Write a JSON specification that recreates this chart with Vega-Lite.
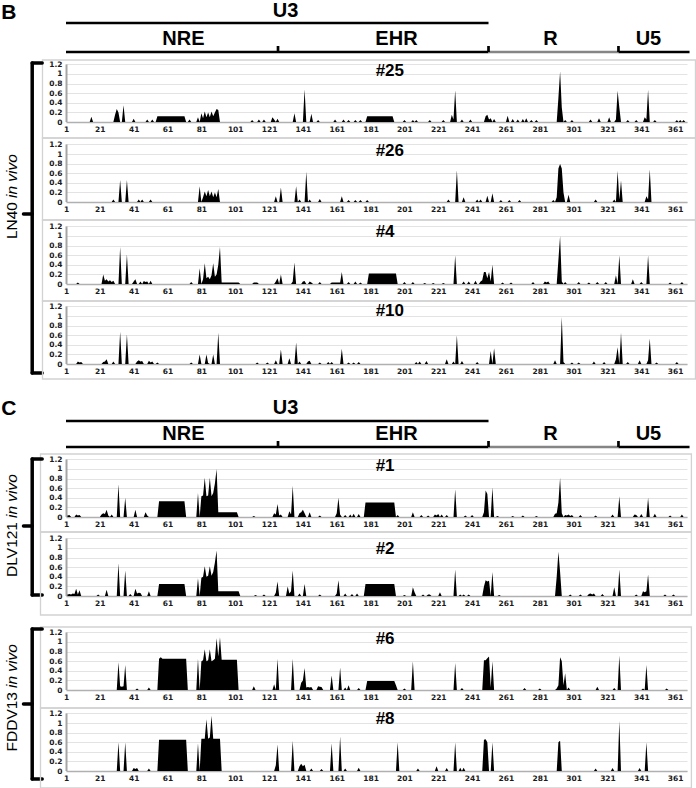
{
"$schema": "https://vega.github.io/schema/vega-lite/v6.json",
"padding": 0,
"background": "white",
"spacing": 0,
"bounds": "flush",
"config": {
  "view": {"stroke": null},
  "text": {"font": "Liberation Sans"},
  "axis": {"labelFont": "DejaVu Sans", "labelFontWeight": "bold", "labelFontSize": 7.5, "labelColor": "#1a1a1a", "ticks": false},
  "axisX": {"grid": false, "domainColor": "#b0b0b0", "domainWidth": 1.5, "labelPadding": 3},
  "axisY": {"grid": true, "gridColor": "#e3e3e3", "domain": false, "labelPadding": 4}
},
"datasets": {
"regions": [
 {"name": "U3", "tier": "outer", "start": 1, "end": 250.7, "mid": 130.7},
 {"name": "NRE", "tier": "sub", "start": 1, "end": 126.3, "mid": 70.4},
 {"name": "EHR", "tier": "sub", "start": 126.3, "end": 250.7, "mid": 196.3},
 {"name": "R", "tier": "sub", "start": 250.7, "end": 327.5, "mid": 287.3},
 {"name": "U5", "tier": "sub", "start": 327.5, "end": 369.5, "mid": 345.2}
],
"d25": [{"x":1,"y":0},{"x":15,"y":0},{"x":16,"y":0.11},{"x":17,"y":0},{"x":29,"y":0},{"x":30,"y":0.15},{"x":31,"y":0.27},{"x":32,"y":0.2},{"x":33,"y":0},{"x":34,"y":0},{"x":35,"y":0.35},{"x":36,"y":0},{"x":40,"y":0},{"x":41,"y":0.07},{"x":42,"y":0},{"x":48,"y":0},{"x":49,"y":0.05},{"x":50,"y":0},{"x":51,"y":0},{"x":52,"y":0.05},{"x":53,"y":0},{"x":54,"y":0},{"x":55,"y":0.12},{"x":71,"y":0.12},{"x":72,"y":0},{"x":73,"y":0},{"x":74,"y":0.05},{"x":75,"y":0},{"x":78,"y":0},{"x":79,"y":0.1},{"x":80,"y":0},{"x":81,"y":0.18},{"x":82,"y":0.08},{"x":83,"y":0.22},{"x":84,"y":0.1},{"x":85,"y":0.2},{"x":86,"y":0.1},{"x":87,"y":0.22},{"x":88,"y":0.12},{"x":89,"y":0.2},{"x":90,"y":0.27},{"x":91,"y":0.25},{"x":92,"y":0},{"x":110,"y":0},{"x":111,"y":0.04},{"x":112,"y":0},{"x":114,"y":0},{"x":115,"y":0.05},{"x":116,"y":0},{"x":117,"y":0},{"x":118,"y":0.05},{"x":119,"y":0},{"x":122,"y":0},{"x":123,"y":0.1},{"x":124,"y":0.05},{"x":125,"y":0},{"x":126,"y":0.07},{"x":127,"y":0},{"x":135,"y":0},{"x":136,"y":0.18},{"x":137,"y":0},{"x":141,"y":0},{"x":142,"y":0.68},{"x":143,"y":0},{"x":145,"y":0},{"x":146,"y":0.17},{"x":147,"y":0},{"x":149,"y":0},{"x":150,"y":0.04},{"x":151,"y":0},{"x":159,"y":0},{"x":160,"y":0.05},{"x":161,"y":0},{"x":164,"y":0},{"x":165,"y":0.05},{"x":166,"y":0},{"x":167,"y":0},{"x":168,"y":0.04},{"x":169,"y":0},{"x":171,"y":0},{"x":172,"y":0.04},{"x":173,"y":0},{"x":174,"y":0},{"x":175,"y":0.04},{"x":176,"y":0},{"x":178,"y":0},{"x":179,"y":0.12},{"x":194,"y":0.12},{"x":195,"y":0},{"x":200,"y":0},{"x":201,"y":0.04},{"x":202,"y":0},{"x":205,"y":0},{"x":206,"y":0.04},{"x":207,"y":0},{"x":208,"y":0.04},{"x":209,"y":0},{"x":215,"y":0},{"x":216,"y":0.04},{"x":217,"y":0},{"x":223,"y":0},{"x":224,"y":0.04},{"x":225,"y":0},{"x":228,"y":0},{"x":229,"y":0.15},{"x":230,"y":0.05},{"x":231,"y":0.66},{"x":232,"y":0},{"x":234,"y":0},{"x":235,"y":0.05},{"x":236,"y":0},{"x":239,"y":0},{"x":240,"y":0.05},{"x":241,"y":0},{"x":248,"y":0},{"x":249,"y":0.12},{"x":250,"y":0.15},{"x":251,"y":0.05},{"x":252,"y":0.08},{"x":253,"y":0},{"x":254,"y":0.06},{"x":255,"y":0},{"x":261,"y":0},{"x":262,"y":0.13},{"x":263,"y":0},{"x":264,"y":0},{"x":265,"y":0.06},{"x":266,"y":0},{"x":267,"y":0},{"x":268,"y":0.05},{"x":269,"y":0},{"x":270,"y":0},{"x":271,"y":0.06},{"x":272,"y":0},{"x":273,"y":0.08},{"x":274,"y":0},{"x":275,"y":0},{"x":276,"y":0.04},{"x":277,"y":0},{"x":278,"y":0},{"x":279,"y":0.04},{"x":280,"y":0},{"x":291,"y":0},{"x":292,"y":0.5},{"x":293,"y":1.05},{"x":294,"y":0.3},{"x":295,"y":0},{"x":296,"y":0.04},{"x":297,"y":0},{"x":299,"y":0},{"x":300,"y":0.04},{"x":301,"y":0},{"x":310,"y":0},{"x":311,"y":0.05},{"x":312,"y":0},{"x":315,"y":0},{"x":316,"y":0.08},{"x":317,"y":0},{"x":321,"y":0},{"x":322,"y":0.1},{"x":323,"y":0},{"x":325,"y":0},{"x":326,"y":0.05},{"x":327,"y":0.65},{"x":328,"y":0.3},{"x":329,"y":0},{"x":332,"y":0},{"x":333,"y":0.04},{"x":334,"y":0},{"x":337,"y":0},{"x":338,"y":0.04},{"x":339,"y":0},{"x":342,"y":0},{"x":343,"y":0.1},{"x":344,"y":0.05},{"x":345,"y":0.67},{"x":346,"y":0},{"x":348,"y":0},{"x":349,"y":0.04},{"x":350,"y":0},{"x":361,"y":0},{"x":362,"y":0.04},{"x":363,"y":0},{"x":364,"y":0.04},{"x":365,"y":0},{"x":366,"y":0.04},{"x":367,"y":0},{"x":368,"y":0}],
"d26": [{"x":1,"y":0},{"x":28,"y":0},{"x":29,"y":0.05},{"x":30,"y":0},{"x":32,"y":0},{"x":33,"y":0.46},{"x":34,"y":0},{"x":36,"y":0},{"x":37,"y":0.46},{"x":38,"y":0},{"x":43,"y":0},{"x":44,"y":0.05},{"x":45,"y":0},{"x":46,"y":0.05},{"x":47,"y":0},{"x":50,"y":0},{"x":51,"y":0.05},{"x":52,"y":0},{"x":79,"y":0},{"x":80,"y":0.33},{"x":81,"y":0},{"x":82,"y":0.1},{"x":83,"y":0.22},{"x":84,"y":0.12},{"x":85,"y":0.25},{"x":86,"y":0.12},{"x":87,"y":0.22},{"x":88,"y":0.1},{"x":89,"y":0.2},{"x":90,"y":0.1},{"x":91,"y":0.27},{"x":92,"y":0},{"x":124,"y":0},{"x":125,"y":0.12},{"x":126,"y":0},{"x":127,"y":0},{"x":128,"y":0.3},{"x":129,"y":0},{"x":136,"y":0},{"x":137,"y":0.33},{"x":138,"y":0},{"x":139,"y":0.05},{"x":140,"y":0},{"x":142,"y":0},{"x":143,"y":0.63},{"x":144,"y":0},{"x":145,"y":0.05},{"x":146,"y":0},{"x":150,"y":0},{"x":151,"y":0.06},{"x":152,"y":0},{"x":163,"y":0},{"x":164,"y":0.12},{"x":165,"y":0},{"x":167,"y":0},{"x":168,"y":0.04},{"x":169,"y":0},{"x":171,"y":0},{"x":172,"y":0.04},{"x":173,"y":0},{"x":174,"y":0},{"x":175,"y":0.04},{"x":176,"y":0},{"x":178,"y":0},{"x":179,"y":0.04},{"x":180,"y":0},{"x":226,"y":0},{"x":227,"y":0.05},{"x":228,"y":0},{"x":231,"y":0},{"x":232,"y":0.66},{"x":233,"y":0},{"x":235,"y":0},{"x":236,"y":0.1},{"x":237,"y":0},{"x":243,"y":0},{"x":244,"y":0.05},{"x":245,"y":0},{"x":246,"y":0.05},{"x":247,"y":0},{"x":249,"y":0},{"x":250,"y":0.13},{"x":251,"y":0},{"x":252,"y":0},{"x":253,"y":0.18},{"x":254,"y":0},{"x":257,"y":0},{"x":258,"y":0.04},{"x":259,"y":0},{"x":262,"y":0},{"x":263,"y":0.04},{"x":264,"y":0},{"x":268,"y":0},{"x":269,"y":0.04},{"x":270,"y":0},{"x":288,"y":0},{"x":289,"y":0.04},{"x":290,"y":0},{"x":291,"y":0.1},{"x":292,"y":0.7},{"x":293,"y":0.79},{"x":294,"y":0.7},{"x":295,"y":0.2},{"x":296,"y":0},{"x":297,"y":0},{"x":298,"y":0.15},{"x":299,"y":0},{"x":313,"y":0},{"x":314,"y":0.05},{"x":315,"y":0},{"x":324,"y":0},{"x":325,"y":0.05},{"x":326,"y":0},{"x":327,"y":0.65},{"x":328,"y":0.05},{"x":329,"y":0.45},{"x":330,"y":0},{"x":343,"y":0},{"x":344,"y":0.12},{"x":345,"y":0.05},{"x":346,"y":0.68},{"x":347,"y":0},{"x":368,"y":0}],
"d4": [{"x":1,"y":0},{"x":7,"y":0},{"x":8,"y":0.03},{"x":9,"y":0},{"x":22,"y":0},{"x":23,"y":0.2},{"x":24,"y":0.07},{"x":25,"y":0.1},{"x":26,"y":0.05},{"x":27,"y":0.08},{"x":28,"y":0.04},{"x":29,"y":0.07},{"x":30,"y":0},{"x":32,"y":0},{"x":33,"y":0.77},{"x":34,"y":0},{"x":36,"y":0},{"x":37,"y":0.62},{"x":38,"y":0},{"x":40,"y":0},{"x":41,"y":0.05},{"x":42,"y":0.1},{"x":43,"y":0},{"x":44,"y":0},{"x":45,"y":0.05},{"x":46,"y":0},{"x":47,"y":0.06},{"x":48,"y":0.04},{"x":49,"y":0.05},{"x":50,"y":0},{"x":51,"y":0.07},{"x":52,"y":0},{"x":74,"y":0},{"x":75,"y":0.04},{"x":76,"y":0},{"x":79,"y":0},{"x":80,"y":0.33},{"x":81,"y":0},{"x":82,"y":0.1},{"x":83,"y":0.43},{"x":84,"y":0.12},{"x":85,"y":0.15},{"x":86,"y":0.1},{"x":87,"y":0.18},{"x":88,"y":0.43},{"x":89,"y":0.15},{"x":90,"y":0.2},{"x":91,"y":0.4},{"x":92,"y":0.77},{"x":93,"y":0.03},{"x":103,"y":0.03},{"x":104,"y":0},{"x":111,"y":0},{"x":112,"y":0.03},{"x":114,"y":0.03},{"x":115,"y":0},{"x":124,"y":0},{"x":125,"y":0.05},{"x":126,"y":0.12},{"x":127,"y":0},{"x":128,"y":0.2},{"x":129,"y":0},{"x":134,"y":0},{"x":135,"y":0.05},{"x":136,"y":0.45},{"x":137,"y":0},{"x":140,"y":0},{"x":141,"y":0.05},{"x":142,"y":0.06},{"x":143,"y":0},{"x":144,"y":0},{"x":145,"y":0.05},{"x":146,"y":0.03},{"x":147,"y":0},{"x":150,"y":0},{"x":151,"y":0.04},{"x":152,"y":0},{"x":157,"y":0},{"x":158,"y":0.03},{"x":163,"y":0.03},{"x":164,"y":0.25},{"x":165,"y":0},{"x":167,"y":0},{"x":168,"y":0.04},{"x":169,"y":0},{"x":171,"y":0},{"x":172,"y":0.05},{"x":173,"y":0},{"x":174,"y":0},{"x":175,"y":0.03},{"x":176,"y":0},{"x":179,"y":0},{"x":180,"y":0.22},{"x":196,"y":0.22},{"x":197,"y":0},{"x":200,"y":0},{"x":201,"y":0.04},{"x":202,"y":0},{"x":205,"y":0},{"x":206,"y":0.04},{"x":207,"y":0},{"x":212,"y":0},{"x":213,"y":0.02},{"x":214,"y":0},{"x":217,"y":0},{"x":218,"y":0.02},{"x":219,"y":0},{"x":223,"y":0},{"x":224,"y":0.02},{"x":225,"y":0},{"x":230,"y":0},{"x":231,"y":0.6},{"x":232,"y":0},{"x":235,"y":0},{"x":236,"y":0.05},{"x":237,"y":0},{"x":238,"y":0},{"x":239,"y":0.05},{"x":240,"y":0},{"x":242,"y":0},{"x":243,"y":0.07},{"x":244,"y":0},{"x":245,"y":0},{"x":246,"y":0.05},{"x":247,"y":0.08},{"x":248,"y":0.25},{"x":249,"y":0.25},{"x":250,"y":0.12},{"x":251,"y":0.25},{"x":252,"y":0.05},{"x":253,"y":0.4},{"x":254,"y":0},{"x":258,"y":0},{"x":259,"y":0.03},{"x":260,"y":0},{"x":263,"y":0},{"x":264,"y":0.03},{"x":265,"y":0},{"x":276,"y":0},{"x":277,"y":0.04},{"x":278,"y":0},{"x":283,"y":0},{"x":284,"y":0.05},{"x":285,"y":0.03},{"x":286,"y":0.05},{"x":287,"y":0},{"x":291,"y":0},{"x":292,"y":0.5},{"x":293,"y":1.0},{"x":294,"y":0.05},{"x":295,"y":0},{"x":296,"y":0.04},{"x":297,"y":0},{"x":303,"y":0},{"x":304,"y":0.04},{"x":305,"y":0},{"x":309,"y":0},{"x":310,"y":0.03},{"x":311,"y":0},{"x":314,"y":0},{"x":315,"y":0.04},{"x":316,"y":0},{"x":319,"y":0},{"x":320,"y":0.04},{"x":321,"y":0},{"x":325,"y":0},{"x":326,"y":0.18},{"x":327,"y":0},{"x":328,"y":0.6},{"x":329,"y":0},{"x":335,"y":0},{"x":336,"y":0.1},{"x":337,"y":0},{"x":340,"y":0},{"x":341,"y":0.04},{"x":342,"y":0},{"x":344,"y":0},{"x":345,"y":0.6},{"x":346,"y":0},{"x":357,"y":0},{"x":358,"y":0.03},{"x":359,"y":0},{"x":364,"y":0},{"x":365,"y":0.04},{"x":366,"y":0},{"x":368,"y":0}],
"d10": [{"x":1,"y":0},{"x":7,"y":0},{"x":8,"y":0.05},{"x":9,"y":0.03},{"x":10,"y":0.04},{"x":11,"y":0},{"x":22,"y":0},{"x":23,"y":0.04},{"x":24,"y":0.05},{"x":25,"y":0.1},{"x":26,"y":0},{"x":28,"y":0},{"x":29,"y":0.05},{"x":30,"y":0},{"x":32,"y":0},{"x":33,"y":0.67},{"x":34,"y":0},{"x":36,"y":0},{"x":37,"y":0.62},{"x":38,"y":0},{"x":42,"y":0},{"x":43,"y":0.05},{"x":44,"y":0.08},{"x":45,"y":0.05},{"x":46,"y":0.06},{"x":47,"y":0},{"x":49,"y":0},{"x":50,"y":0.07},{"x":51,"y":0.03},{"x":52,"y":0.05},{"x":53,"y":0},{"x":54,"y":0},{"x":55,"y":0.03},{"x":56,"y":0},{"x":74,"y":0},{"x":75,"y":0.03},{"x":76,"y":0},{"x":79,"y":0},{"x":80,"y":0.2},{"x":81,"y":0},{"x":83,"y":0},{"x":84,"y":0.2},{"x":85,"y":0.02},{"x":86,"y":0},{"x":87,"y":0},{"x":88,"y":0.2},{"x":89,"y":0},{"x":90,"y":0},{"x":91,"y":0.65},{"x":92,"y":0},{"x":113,"y":0},{"x":114,"y":0.03},{"x":115,"y":0},{"x":119,"y":0},{"x":120,"y":0.03},{"x":121,"y":0},{"x":124,"y":0},{"x":125,"y":0.08},{"x":126,"y":0},{"x":127,"y":0},{"x":128,"y":0.3},{"x":129,"y":0},{"x":132,"y":0},{"x":133,"y":0.12},{"x":134,"y":0},{"x":136,"y":0},{"x":137,"y":0.45},{"x":138,"y":0},{"x":139,"y":0.05},{"x":140,"y":0},{"x":143,"y":0},{"x":144,"y":0.05},{"x":145,"y":0.07},{"x":146,"y":0},{"x":150,"y":0},{"x":151,"y":0.03},{"x":152,"y":0},{"x":155,"y":0},{"x":156,"y":0.04},{"x":157,"y":0},{"x":158,"y":0.04},{"x":159,"y":0},{"x":163,"y":0},{"x":164,"y":0.32},{"x":165,"y":0},{"x":167,"y":0},{"x":168,"y":0.03},{"x":169,"y":0},{"x":170,"y":0},{"x":171,"y":0.03},{"x":172,"y":0},{"x":173,"y":0},{"x":174,"y":0.04},{"x":175,"y":0},{"x":207,"y":0},{"x":208,"y":0.04},{"x":209,"y":0},{"x":210,"y":0.05},{"x":211,"y":0},{"x":213,"y":0},{"x":214,"y":0.06},{"x":215,"y":0},{"x":225,"y":0},{"x":226,"y":0.1},{"x":227,"y":0},{"x":229,"y":0},{"x":230,"y":0.05},{"x":231,"y":0},{"x":232,"y":0.6},{"x":233,"y":0},{"x":234,"y":0},{"x":235,"y":0.06},{"x":236,"y":0},{"x":243,"y":0},{"x":244,"y":0.04},{"x":245,"y":0},{"x":251,"y":0},{"x":252,"y":0.27},{"x":253,"y":0},{"x":254,"y":0.33},{"x":255,"y":0},{"x":289,"y":0},{"x":290,"y":0.08},{"x":291,"y":0},{"x":293,"y":0},{"x":294,"y":0.98},{"x":295,"y":0.04},{"x":296,"y":0},{"x":299,"y":0},{"x":300,"y":0.03},{"x":301,"y":0},{"x":303,"y":0},{"x":304,"y":0.03},{"x":305,"y":0},{"x":312,"y":0},{"x":313,"y":0.05},{"x":314,"y":0},{"x":318,"y":0},{"x":319,"y":0.04},{"x":320,"y":0},{"x":325,"y":0},{"x":326,"y":0.1},{"x":327,"y":0.35},{"x":328,"y":0},{"x":329,"y":0.65},{"x":330,"y":0},{"x":332,"y":0},{"x":333,"y":0.04},{"x":334,"y":0},{"x":339,"y":0},{"x":340,"y":0.08},{"x":341,"y":0},{"x":344,"y":0},{"x":345,"y":0.08},{"x":346,"y":0.53},{"x":347,"y":0},{"x":349,"y":0},{"x":350,"y":0.03},{"x":351,"y":0},{"x":361,"y":0},{"x":362,"y":0.04},{"x":363,"y":0},{"x":368,"y":0}],
"d1": [{"x":1,"y":0.04},{"x":2,"y":0.03},{"x":3,"y":0.04},{"x":4,"y":0},{"x":6,"y":0},{"x":7,"y":0.05},{"x":8,"y":0.03},{"x":9,"y":0.04},{"x":10,"y":0},{"x":21,"y":0},{"x":22,"y":0.05},{"x":23,"y":0.08},{"x":24,"y":0.06},{"x":25,"y":0.15},{"x":26,"y":0.03},{"x":27,"y":0},{"x":28,"y":0.05},{"x":29,"y":0},{"x":31,"y":0},{"x":32,"y":0.68},{"x":33,"y":0},{"x":35,"y":0},{"x":36,"y":0.4},{"x":37,"y":0},{"x":41,"y":0},{"x":42,"y":0.15},{"x":43,"y":0},{"x":47,"y":0},{"x":48,"y":0.1},{"x":49,"y":0.03},{"x":50,"y":0},{"x":55,"y":0},{"x":56,"y":0.33},{"x":71,"y":0.33},{"x":72,"y":0},{"x":78,"y":0},{"x":79,"y":0.5},{"x":80,"y":0},{"x":81,"y":0.43},{"x":82,"y":0.45},{"x":83,"y":0.82},{"x":84,"y":0.43},{"x":85,"y":0.45},{"x":86,"y":0.82},{"x":87,"y":0.43},{"x":88,"y":0.5},{"x":89,"y":0.7},{"x":90,"y":1.0},{"x":91,"y":0.1},{"x":102,"y":0.1},{"x":103,"y":0},{"x":111,"y":0},{"x":112,"y":0.02},{"x":113,"y":0},{"x":123,"y":0},{"x":124,"y":0.08},{"x":125,"y":0.05},{"x":126,"y":0.27},{"x":127,"y":0.03},{"x":128,"y":0.05},{"x":129,"y":0},{"x":132,"y":0},{"x":133,"y":0.12},{"x":134,"y":0.05},{"x":135,"y":0.65},{"x":136,"y":0},{"x":138,"y":0},{"x":139,"y":0.08},{"x":140,"y":0.1},{"x":141,"y":0.15},{"x":142,"y":0.08},{"x":143,"y":0},{"x":144,"y":0},{"x":145,"y":0.1},{"x":146,"y":0},{"x":150,"y":0},{"x":151,"y":0.03},{"x":152,"y":0},{"x":160,"y":0},{"x":161,"y":0.08},{"x":162,"y":0.4},{"x":163,"y":0.05},{"x":164,"y":0},{"x":165,"y":0},{"x":166,"y":0.04},{"x":167,"y":0},{"x":168,"y":0},{"x":169,"y":0.05},{"x":170,"y":0},{"x":171,"y":0.07},{"x":172,"y":0},{"x":173,"y":0},{"x":174,"y":0.06},{"x":175,"y":0},{"x":177,"y":0},{"x":178,"y":0.3},{"x":195,"y":0.3},{"x":196,"y":0},{"x":197,"y":0.04},{"x":198,"y":0},{"x":205,"y":0},{"x":206,"y":0.1},{"x":207,"y":0},{"x":210,"y":0},{"x":211,"y":0.04},{"x":212,"y":0},{"x":214,"y":0},{"x":215,"y":0.03},{"x":216,"y":0},{"x":218,"y":0},{"x":219,"y":0.05},{"x":220,"y":0.03},{"x":221,"y":0.06},{"x":222,"y":0},{"x":223,"y":0.05},{"x":224,"y":0},{"x":225,"y":0},{"x":226,"y":0.04},{"x":227,"y":0},{"x":230,"y":0},{"x":231,"y":0.58},{"x":232,"y":0},{"x":236,"y":0},{"x":237,"y":0.03},{"x":238,"y":0},{"x":240,"y":0},{"x":241,"y":0.04},{"x":242,"y":0},{"x":247,"y":0},{"x":248,"y":0.1},{"x":249,"y":0.55},{"x":250,"y":0.48},{"x":251,"y":0},{"x":252,"y":0},{"x":253,"y":0.62},{"x":254,"y":0},{"x":255,"y":0},{"x":256,"y":0.02},{"x":257,"y":0},{"x":264,"y":0},{"x":265,"y":0.02},{"x":266,"y":0},{"x":270,"y":0},{"x":271,"y":0.03},{"x":272,"y":0},{"x":278,"y":0},{"x":279,"y":0.02},{"x":280,"y":0},{"x":289,"y":0},{"x":290,"y":0.07},{"x":291,"y":0.08},{"x":292,"y":0.3},{"x":293,"y":0.82},{"x":294,"y":0.08},{"x":295,"y":0},{"x":296,"y":0.04},{"x":297,"y":0.03},{"x":298,"y":0.05},{"x":299,"y":0.02},{"x":300,"y":0.04},{"x":301,"y":0},{"x":304,"y":0},{"x":305,"y":0.04},{"x":306,"y":0},{"x":313,"y":0},{"x":314,"y":0.03},{"x":315,"y":0},{"x":323,"y":0},{"x":324,"y":0.05},{"x":325,"y":0},{"x":327,"y":0},{"x":328,"y":0.43},{"x":329,"y":0},{"x":336,"y":0},{"x":337,"y":0.05},{"x":338,"y":0.04},{"x":339,"y":0},{"x":340,"y":0},{"x":341,"y":0.06},{"x":342,"y":0},{"x":344,"y":0},{"x":345,"y":0.4},{"x":346,"y":0},{"x":348,"y":0},{"x":349,"y":0.07},{"x":350,"y":0},{"x":357,"y":0},{"x":358,"y":0.03},{"x":359,"y":0},{"x":364,"y":0},{"x":365,"y":0.05},{"x":366,"y":0},{"x":368,"y":0}],
"d2": [{"x":1,"y":0.04},{"x":2,"y":0.03},{"x":3,"y":0.04},{"x":4,"y":0.03},{"x":5,"y":0.05},{"x":6,"y":0.04},{"x":7,"y":0.15},{"x":8,"y":0.03},{"x":9,"y":0.12},{"x":10,"y":0},{"x":19,"y":0},{"x":20,"y":0.03},{"x":21,"y":0},{"x":24,"y":0},{"x":25,"y":0.13},{"x":26,"y":0},{"x":31,"y":0},{"x":32,"y":0.68},{"x":33,"y":0},{"x":35,"y":0},{"x":36,"y":0.53},{"x":37,"y":0},{"x":38,"y":0},{"x":39,"y":0.04},{"x":40,"y":0},{"x":41,"y":0},{"x":42,"y":0.15},{"x":43,"y":0.05},{"x":44,"y":0.07},{"x":45,"y":0.06},{"x":46,"y":0},{"x":49,"y":0},{"x":50,"y":0.1},{"x":51,"y":0},{"x":55,"y":0},{"x":56,"y":0.25},{"x":71,"y":0.25},{"x":72,"y":0},{"x":78,"y":0},{"x":79,"y":0.37},{"x":80,"y":0},{"x":81,"y":0.38},{"x":82,"y":0.4},{"x":83,"y":0.62},{"x":84,"y":0.4},{"x":85,"y":0.42},{"x":86,"y":0.62},{"x":87,"y":0.42},{"x":88,"y":0.5},{"x":89,"y":0.7},{"x":90,"y":0.95},{"x":91,"y":0.1},{"x":103,"y":0.1},{"x":104,"y":0},{"x":112,"y":0},{"x":113,"y":0.02},{"x":114,"y":0},{"x":117,"y":0},{"x":118,"y":0.03},{"x":119,"y":0},{"x":124,"y":0},{"x":125,"y":0.07},{"x":126,"y":0.3},{"x":127,"y":0},{"x":131,"y":0},{"x":132,"y":0.2},{"x":133,"y":0.05},{"x":134,"y":0.1},{"x":135,"y":0.53},{"x":136,"y":0},{"x":138,"y":0},{"x":139,"y":0.05},{"x":140,"y":0},{"x":141,"y":0},{"x":142,"y":0.25},{"x":143,"y":0},{"x":150,"y":0},{"x":151,"y":0.03},{"x":152,"y":0},{"x":160,"y":0},{"x":161,"y":0.05},{"x":162,"y":0.33},{"x":163,"y":0},{"x":165,"y":0},{"x":166,"y":0.05},{"x":167,"y":0},{"x":169,"y":0},{"x":170,"y":0.04},{"x":171,"y":0},{"x":172,"y":0},{"x":173,"y":0.05},{"x":174,"y":0},{"x":177,"y":0},{"x":178,"y":0.25},{"x":195,"y":0.25},{"x":196,"y":0},{"x":200,"y":0},{"x":201,"y":0.02},{"x":202,"y":0},{"x":205,"y":0},{"x":206,"y":0.18},{"x":207,"y":0.08},{"x":208,"y":0},{"x":211,"y":0},{"x":212,"y":0.03},{"x":213,"y":0},{"x":214,"y":0},{"x":215,"y":0.03},{"x":216,"y":0.03},{"x":217,"y":0},{"x":221,"y":0},{"x":222,"y":0.08},{"x":223,"y":0},{"x":230,"y":0},{"x":231,"y":0.55},{"x":232,"y":0},{"x":233,"y":0},{"x":234,"y":0.03},{"x":235,"y":0},{"x":236,"y":0.03},{"x":237,"y":0},{"x":238,"y":0},{"x":239,"y":0.03},{"x":240,"y":0},{"x":247,"y":0},{"x":248,"y":0.2},{"x":249,"y":0.33},{"x":250,"y":0.3},{"x":251,"y":0.32},{"x":252,"y":0},{"x":253,"y":0.5},{"x":254,"y":0},{"x":256,"y":0},{"x":257,"y":0.02},{"x":258,"y":0},{"x":290,"y":0},{"x":291,"y":0.4},{"x":292,"y":0.92},{"x":293,"y":0.5},{"x":294,"y":0},{"x":298,"y":0},{"x":299,"y":0.03},{"x":300,"y":0},{"x":304,"y":0},{"x":305,"y":0.03},{"x":306,"y":0},{"x":309,"y":0},{"x":310,"y":0.04},{"x":311,"y":0.05},{"x":312,"y":0.03},{"x":313,"y":0.05},{"x":314,"y":0},{"x":317,"y":0},{"x":318,"y":0.04},{"x":319,"y":0},{"x":324,"y":0},{"x":325,"y":0.18},{"x":326,"y":0},{"x":327,"y":0},{"x":328,"y":0.55},{"x":329,"y":0},{"x":337,"y":0},{"x":338,"y":0.03},{"x":339,"y":0},{"x":341,"y":0},{"x":342,"y":0.1},{"x":343,"y":0.08},{"x":344,"y":0.1},{"x":345,"y":0.45},{"x":346,"y":0},{"x":354,"y":0},{"x":355,"y":0.03},{"x":356,"y":0},{"x":359,"y":0},{"x":360,"y":0.03},{"x":361,"y":0},{"x":368,"y":0}],
"d6": [{"x":1,"y":0},{"x":31,"y":0},{"x":32,"y":0.58},{"x":33,"y":0.08},{"x":34,"y":0.07},{"x":35,"y":0.08},{"x":36,"y":0.52},{"x":37,"y":0},{"x":42,"y":0},{"x":43,"y":0.03},{"x":44,"y":0},{"x":49,"y":0},{"x":50,"y":0.05},{"x":51,"y":0},{"x":55,"y":0},{"x":56,"y":0.65},{"x":57,"y":0.68},{"x":58,"y":0.65},{"x":72,"y":0.65},{"x":73,"y":0},{"x":78,"y":0},{"x":79,"y":0.65},{"x":80,"y":0},{"x":81,"y":0.6},{"x":82,"y":0.62},{"x":83,"y":0.85},{"x":84,"y":0.6},{"x":85,"y":0.62},{"x":86,"y":0.85},{"x":87,"y":0.6},{"x":88,"y":0.62},{"x":89,"y":0.65},{"x":90,"y":1.08},{"x":91,"y":0.7},{"x":92,"y":1.1},{"x":93,"y":0.63},{"x":102,"y":0.63},{"x":103,"y":0},{"x":111,"y":0},{"x":112,"y":0.08},{"x":113,"y":0},{"x":123,"y":0},{"x":124,"y":0.12},{"x":125,"y":0},{"x":126,"y":0.65},{"x":127,"y":0},{"x":134,"y":0},{"x":135,"y":0.65},{"x":136,"y":0},{"x":139,"y":0},{"x":140,"y":0.15},{"x":141,"y":0.2},{"x":142,"y":0.46},{"x":143,"y":0.05},{"x":144,"y":0.06},{"x":145,"y":0.05},{"x":146,"y":0.06},{"x":147,"y":0},{"x":149,"y":0},{"x":150,"y":0.08},{"x":151,"y":0.07},{"x":152,"y":0.06},{"x":153,"y":0},{"x":157,"y":0},{"x":158,"y":0.3},{"x":159,"y":0},{"x":162,"y":0},{"x":163,"y":0.47},{"x":164,"y":0},{"x":165,"y":0},{"x":166,"y":0.05},{"x":167,"y":0},{"x":168,"y":0.1},{"x":169,"y":0},{"x":173,"y":0},{"x":174,"y":0.04},{"x":175,"y":0},{"x":178,"y":0},{"x":179,"y":0.19},{"x":195,"y":0.19},{"x":196,"y":0.1},{"x":197,"y":0},{"x":200,"y":0},{"x":201,"y":0.03},{"x":202,"y":0},{"x":205,"y":0},{"x":206,"y":0.6},{"x":207,"y":0},{"x":230,"y":0},{"x":231,"y":0.56},{"x":232,"y":0},{"x":234,"y":0},{"x":235,"y":0.04},{"x":236,"y":0},{"x":247,"y":0},{"x":248,"y":0.62},{"x":249,"y":0.62},{"x":250,"y":0.66},{"x":251,"y":0.7},{"x":252,"y":0.05},{"x":253,"y":0.6},{"x":254,"y":0},{"x":271,"y":0},{"x":272,"y":0.04},{"x":273,"y":0},{"x":280,"y":0},{"x":281,"y":0.03},{"x":282,"y":0},{"x":290,"y":0},{"x":291,"y":0.03},{"x":292,"y":0.1},{"x":293,"y":0.68},{"x":294,"y":0.6},{"x":295,"y":0.1},{"x":296,"y":0.35},{"x":297,"y":0},{"x":298,"y":0.05},{"x":299,"y":0},{"x":314,"y":0},{"x":315,"y":0.07},{"x":316,"y":0},{"x":324,"y":0},{"x":325,"y":0.04},{"x":326,"y":0},{"x":327,"y":0},{"x":328,"y":0.72},{"x":329,"y":0},{"x":341,"y":0},{"x":342,"y":0.03},{"x":343,"y":0},{"x":344,"y":0.52},{"x":345,"y":0},{"x":355,"y":0},{"x":356,"y":0.03},{"x":357,"y":0},{"x":368,"y":0}],
"d8": [{"x":1,"y":0},{"x":31,"y":0},{"x":32,"y":0.6},{"x":33,"y":0},{"x":35,"y":0},{"x":36,"y":0.6},{"x":37,"y":0},{"x":40,"y":0},{"x":41,"y":0.06},{"x":42,"y":0.04},{"x":43,"y":0.06},{"x":44,"y":0},{"x":49,"y":0},{"x":50,"y":0.05},{"x":51,"y":0},{"x":55,"y":0},{"x":56,"y":0.65},{"x":72,"y":0.65},{"x":73,"y":0},{"x":78,"y":0},{"x":79,"y":0.58},{"x":80,"y":0},{"x":81,"y":0.67},{"x":83,"y":0.67},{"x":84,"y":1.08},{"x":85,"y":0.67},{"x":86,"y":0.7},{"x":87,"y":1.15},{"x":88,"y":0.67},{"x":92,"y":0.67},{"x":93,"y":0},{"x":124,"y":0},{"x":125,"y":0.12},{"x":126,"y":0.55},{"x":127,"y":0},{"x":134,"y":0},{"x":135,"y":0.63},{"x":136,"y":0},{"x":138,"y":0},{"x":139,"y":0.1},{"x":140,"y":0.15},{"x":141,"y":0.1},{"x":142,"y":0.13},{"x":143,"y":0},{"x":145,"y":0},{"x":146,"y":0.05},{"x":147,"y":0},{"x":151,"y":0},{"x":152,"y":0.04},{"x":153,"y":0},{"x":157,"y":0},{"x":158,"y":0.58},{"x":159,"y":0},{"x":162,"y":0},{"x":163,"y":0.72},{"x":164,"y":0},{"x":165,"y":0},{"x":166,"y":0.05},{"x":167,"y":0},{"x":173,"y":0},{"x":174,"y":0.07},{"x":175,"y":0},{"x":196,"y":0},{"x":197,"y":0.6},{"x":198,"y":0},{"x":208,"y":0},{"x":209,"y":0.05},{"x":210,"y":0},{"x":219,"y":0},{"x":220,"y":0.1},{"x":221,"y":0},{"x":225,"y":0},{"x":226,"y":0.06},{"x":227,"y":0},{"x":230,"y":0},{"x":231,"y":0.6},{"x":232,"y":0},{"x":233,"y":0},{"x":234,"y":0.07},{"x":235,"y":0},{"x":236,"y":0.07},{"x":237,"y":0},{"x":247,"y":0},{"x":248,"y":0.65},{"x":249,"y":0.66},{"x":250,"y":0.6},{"x":251,"y":0},{"x":252,"y":0},{"x":253,"y":0.6},{"x":254,"y":0},{"x":291,"y":0},{"x":292,"y":0.6},{"x":293,"y":0.63},{"x":294,"y":0},{"x":313,"y":0},{"x":314,"y":0.05},{"x":315,"y":0},{"x":323,"y":0},{"x":324,"y":0.06},{"x":325,"y":0},{"x":327,"y":0},{"x":328,"y":1.04},{"x":329,"y":0},{"x":339,"y":0},{"x":340,"y":0.06},{"x":341,"y":0},{"x":343,"y":0},{"x":344,"y":0.6},{"x":345,"y":0},{"x":368,"y":0}]
},
"vconcat": [
 {"width": 621, "height": 60,
  "layer": [
   {"data": {"name": "regions"}, "transform": [{"filter": "datum.tier == 'sub'"}],
    "mark": {"type": "rule", "strokeWidth": 2.7},
    "encoding": {"x": {"field": "start", "type": "quantitative", "scale": {"domain": [1, 368], "nice": false, "zero": false}, "axis": null},
                 "x2": {"field": "end"},
                 "y": {"datum": 0.9, "type": "quantitative", "scale": {"domain": [0, 6], "nice": false, "zero": false}, "axis": null},
                 "color": {"field": "name", "type": "nominal", "scale": {"domain": ["NRE", "EHR", "R", "U5"], "range": ["#000000", "#000000", "#858585", "#000000"]}, "legend": null}}},
   {"data": {"name": "regions"}, "transform": [{"filter": "datum.tier == 'outer'"}],
    "mark": {"type": "rule", "strokeWidth": 2.7, "color": "black"},
    "encoding": {"x": {"field": "start", "type": "quantitative"}, "x2": {"field": "end"}, "y": {"datum": 3.8, "type": "quantitative"}}},
   {"data": {"name": "regions"}, "transform": [{"filter": "datum.tier == 'sub' && datum.name != 'NRE'"}],
    "mark": {"type": "rule", "strokeWidth": 2.7, "color": "black"},
    "encoding": {"x": {"field": "start", "type": "quantitative"}, "y": {"datum": 0.9, "type": "quantitative"}, "y2": {"datum": 1.5}}},
   {"data": {"name": "regions"}, "transform": [{"filter": "datum.tier == 'sub'"}],
    "mark": {"type": "text", "fontSize": 20, "fontWeight": "bold", "baseline": "middle", "color": "black"},
    "encoding": {"x": {"field": "mid", "type": "quantitative"}, "y": {"datum": 2.2, "type": "quantitative"}, "text": {"field": "name"}}},
   {"data": {"name": "regions"}, "transform": [{"filter": "datum.tier == 'outer'"}],
    "mark": {"type": "text", "fontSize": 20, "fontWeight": "bold", "baseline": "middle", "color": "black"},
    "encoding": {"x": {"field": "mid", "type": "quantitative"}, "y": {"datum": 5.0, "type": "quantitative"}, "text": {"field": "name"}}},
   {"data": {"values": [{}]},
    "mark": {"type": "text", "text": "B", "fontSize": 21, "fontWeight": "bold", "align": "left", "baseline": "middle", "color": "black"},
    "encoding": {"x": {"datum": -37.3, "type": "quantitative"}, "y": {"datum": 4.8, "type": "quantitative"}}},
   {"data": {"values": [{}]},
    "mark": {"type": "rect", "opacity": 0},
    "encoding": {"x": {"datum": -37.71, "type": "quantitative"}, "x2": {"datum": 1}, "y": {"datum": 6, "type": "quantitative"}, "y2": {"datum": 5.5}}}
  ]},
 {"width": 621, "height": 61,
  "layer": [
   {"data": {"name": "d25"}, "mark": {"type": "area", "color": "black", "interpolate": "linear"},
    "encoding": {"x": {"field": "x", "type": "quantitative", "scale": {"domain": [1, 368], "nice": false, "zero": false}, "axis": {"title": null, "labelOverlap": false, "labelFlush": false, "labelBound": false, "tickCount": 50, "values": [1,21,41,61,81,101,121,141,161,181,201,221,241,261,281,301,321,341,361]}},
                 "y": {"field": "y", "type": "quantitative", "stack": null, "scale": {"domain": [0, 1.2708], "nice": false, "zero": false}, "axis": {"title": null, "labelOverlap": false, "labelFlush": false, "labelBound": false, "tickCount": 50, "values": [0,0.2,0.4,0.6,0.8,1,1.2], "format": "~g"}}}},
   {"data": {"values": [{}]}, "mark": {"type": "rect", "fillOpacity": 0, "stroke": "#d2d2d2", "strokeWidth": 1.3},
    "encoding": {"x": {"datum": -12.89, "type": "quantitative"}, "x2": {"datum": 373}, "y": {"datum": 1.2917, "type": "quantitative"}, "y2": {"datum": -0.3333}}},
   {"data": {"values": [{}]}, "mark": {"type": "rule", "color": "#a5a5a5", "strokeWidth": 2},
    "encoding": {"x": {"datum": 1.3, "type": "quantitative"}, "y": {"datum": 0, "type": "quantitative"}, "y2": {"datum": 1.2}}},
   {"data": {"values": [{}]}, "mark": {"type": "text", "text": "#25", "fontSize": 17, "fontWeight": "bold", "align": "left", "baseline": "middle", "color": "black"},
    "encoding": {"x": {"datum": 184, "type": "quantitative"}, "y": {"datum": 1.07, "type": "quantitative"}}},
   {"data": {"values": [{}]}, "mark": {"type": "rule", "color": "black", "strokeWidth": 3.5, "strokeCap": "round"},
    "encoding": {"x": {"datum": -18.97, "type": "quantitative"}, "y": {"datum": 1.2292, "type": "quantitative"}, "y2": {"datum": -5.2292}}},
   {"data": {"values": [{}]}, "mark": {"type": "rule", "color": "black", "strokeWidth": 3.5, "strokeCap": "round"},
    "encoding": {"x": {"datum": -18.97, "type": "quantitative"}, "x2": {"datum": -13.07}, "y": {"datum": 1.2292, "type": "quantitative"}}},
   {"data": {"values": [{}]}, "mark": {"type": "rule", "color": "black", "strokeWidth": 3.5, "strokeCap": "round"},
    "encoding": {"x": {"datum": -18.97, "type": "quantitative"}, "x2": {"datum": -13.07}, "y": {"datum": -5.2292, "type": "quantitative"}}},
   {"data": {"values": [{}]}, "mark": {"type": "rule", "color": "black", "strokeWidth": 3.5, "strokeCap": "round"},
    "encoding": {"x": {"datum": -24.12, "type": "quantitative"}, "x2": {"datum": -18.97}, "y": {"datum": -1.9167, "type": "quantitative"}}},
   {"data": {"values": [{}]}, "mark": {"type": "text", "text": "LN40", "angle": 270, "align": "right", "baseline": "middle", "fontSize": 15.5, "color": "black"},
    "encoding": {"x": {"datum": -30.62, "type": "quantitative"}, "y": {"datum": -1.6667, "type": "quantitative"}}},
   {"data": {"values": [{}]}, "mark": {"type": "text", "text": "in vivo", "angle": 270, "align": "left", "baseline": "middle", "fontSize": 15.5, "fontStyle": "italic", "color": "black"},
    "encoding": {"x": {"datum": -30.62, "type": "quantitative"}, "y": {"datum": -1.5833, "type": "quantitative"}}}
  ]},
 {"width": 621, "height": 80,
  "layer": [
   {"data": {"name": "d26"}, "mark": {"type": "area", "color": "black", "interpolate": "linear"},
    "encoding": {"x": {"field": "x", "type": "quantitative", "scale": {"domain": [1, 368], "nice": false, "zero": false}, "axis": {"title": null, "labelOverlap": false, "labelFlush": false, "labelBound": false, "tickCount": 50, "values": [1,21,41,61,81,101,121,141,161,181,201,221,241,261,281,301,321,341,361]}},
                 "y": {"field": "y", "type": "quantitative", "stack": null, "scale": {"domain": [0, 1.6667], "nice": false, "zero": false}, "axis": {"title": null, "labelOverlap": false, "labelFlush": false, "labelBound": false, "tickCount": 50, "values": [0,0.2,0.4,0.6,0.8,1,1.2], "format": "~g"}}}},
   {"data": {"values": [{}]}, "mark": {"type": "rect", "fillOpacity": 0, "stroke": "#d2d2d2", "strokeWidth": 1.3},
    "encoding": {"x": {"datum": -12.89, "type": "quantitative"}, "x2": {"datum": 373}, "y": {"datum": 1.3333, "type": "quantitative"}, "y2": {"datum": -0.375}}},
   {"data": {"values": [{}]}, "mark": {"type": "rule", "color": "#a5a5a5", "strokeWidth": 2},
    "encoding": {"x": {"datum": 1.3, "type": "quantitative"}, "y": {"datum": 0, "type": "quantitative"}, "y2": {"datum": 1.2}}},
   {"data": {"values": [{}]}, "mark": {"type": "text", "text": "#26", "fontSize": 17, "fontWeight": "bold", "align": "left", "baseline": "middle", "color": "black"},
    "encoding": {"x": {"datum": 184, "type": "quantitative"}, "y": {"datum": 1.07, "type": "quantitative"}}}
  ]},
 {"width": 621, "height": 82,
  "layer": [
   {"data": {"name": "d4"}, "mark": {"type": "area", "color": "black", "interpolate": "linear"},
    "encoding": {"x": {"field": "x", "type": "quantitative", "scale": {"domain": [1, 368], "nice": false, "zero": false}, "axis": {"title": null, "labelOverlap": false, "labelFlush": false, "labelBound": false, "tickCount": 50, "values": [1,21,41,61,81,101,121,141,161,181,201,221,241,261,281,301,321,341,361]}},
                 "y": {"field": "y", "type": "quantitative", "stack": null, "scale": {"domain": [0, 1.7083], "nice": false, "zero": false}, "axis": {"title": null, "labelOverlap": false, "labelFlush": false, "labelBound": false, "tickCount": 50, "values": [0,0.2,0.4,0.6,0.8,1,1.2], "format": "~g"}}}},
   {"data": {"values": [{}]}, "mark": {"type": "rect", "fillOpacity": 0, "stroke": "#d2d2d2", "strokeWidth": 1.3},
    "encoding": {"x": {"datum": -12.89, "type": "quantitative"}, "x2": {"datum": 373}, "y": {"datum": 1.3333, "type": "quantitative"}, "y2": {"datum": -0.3542}}},
   {"data": {"values": [{}]}, "mark": {"type": "rule", "color": "#a5a5a5", "strokeWidth": 2},
    "encoding": {"x": {"datum": 1.3, "type": "quantitative"}, "y": {"datum": 0, "type": "quantitative"}, "y2": {"datum": 1.2}}},
   {"data": {"values": [{}]}, "mark": {"type": "text", "text": "#4", "fontSize": 17, "fontWeight": "bold", "align": "left", "baseline": "middle", "color": "black"},
    "encoding": {"x": {"datum": 184, "type": "quantitative"}, "y": {"datum": 1.09, "type": "quantitative"}}}
  ]},
 {"width": 621, "height": 80,
  "layer": [
   {"data": {"name": "d10"}, "mark": {"type": "area", "color": "black", "interpolate": "linear"},
    "encoding": {"x": {"field": "x", "type": "quantitative", "scale": {"domain": [1, 368], "nice": false, "zero": false}, "axis": {"title": null, "labelOverlap": false, "labelFlush": false, "labelBound": false, "tickCount": 50, "values": [1,21,41,61,81,101,121,141,161,181,201,221,241,261,281,301,321,341,361]}},
                 "y": {"field": "y", "type": "quantitative", "stack": null, "scale": {"domain": [0, 1.6667], "nice": false, "zero": false}, "axis": {"title": null, "labelOverlap": false, "labelFlush": false, "labelBound": false, "tickCount": 50, "values": [0,0.2,0.4,0.6,0.8,1,1.2], "format": "~g"}}}},
   {"data": {"values": [{}]}, "mark": {"type": "rect", "fillOpacity": 0, "stroke": "#d2d2d2", "strokeWidth": 1.3},
    "encoding": {"x": {"datum": -12.89, "type": "quantitative"}, "x2": {"datum": 373}, "y": {"datum": 1.3125, "type": "quantitative"}, "y2": {"datum": -0.3125}}},
   {"data": {"values": [{}]}, "mark": {"type": "rule", "color": "#a5a5a5", "strokeWidth": 2},
    "encoding": {"x": {"datum": 1.3, "type": "quantitative"}, "y": {"datum": 0, "type": "quantitative"}, "y2": {"datum": 1.2}}},
   {"data": {"values": [{}]}, "mark": {"type": "text", "text": "#10", "fontSize": 17, "fontWeight": "bold", "align": "left", "baseline": "middle", "color": "black"},
    "encoding": {"x": {"datum": 184, "type": "quantitative"}, "y": {"datum": 1.1, "type": "quantitative"}}}
  ]},
 {"width": 621, "height": 92,
  "layer": [
   {"data": {"name": "regions"}, "transform": [{"filter": "datum.tier == 'sub'"}],
    "mark": {"type": "rule", "strokeWidth": 2.7},
    "encoding": {"x": {"field": "start", "type": "quantitative", "scale": {"domain": [1, 368], "nice": false, "zero": false}, "axis": null},
                 "x2": {"field": "end"},
                 "y": {"datum": 0.9, "type": "quantitative", "scale": {"domain": [0, 9.2], "nice": false, "zero": false}, "axis": null},
                 "color": {"field": "name", "type": "nominal", "scale": {"domain": ["NRE", "EHR", "R", "U5"], "range": ["#000000", "#000000", "#858585", "#000000"]}, "legend": null}}},
   {"data": {"name": "regions"}, "transform": [{"filter": "datum.tier == 'outer'"}],
    "mark": {"type": "rule", "strokeWidth": 2.7, "color": "black"},
    "encoding": {"x": {"field": "start", "type": "quantitative"}, "x2": {"field": "end"}, "y": {"datum": 3.5, "type": "quantitative"}}},
   {"data": {"name": "regions"}, "transform": [{"filter": "datum.tier == 'sub' && datum.name != 'NRE'"}],
    "mark": {"type": "rule", "strokeWidth": 2.7, "color": "black"},
    "encoding": {"x": {"field": "start", "type": "quantitative"}, "y": {"datum": 0.9, "type": "quantitative"}, "y2": {"datum": 1.5}}},
   {"data": {"name": "regions"}, "transform": [{"filter": "datum.tier == 'sub'"}],
    "mark": {"type": "text", "fontSize": 20, "fontWeight": "bold", "baseline": "middle", "color": "black"},
    "encoding": {"x": {"field": "mid", "type": "quantitative"}, "y": {"datum": 2.2, "type": "quantitative"}, "text": {"field": "name"}}},
   {"data": {"name": "regions"}, "transform": [{"filter": "datum.tier == 'outer'"}],
    "mark": {"type": "text", "fontSize": 20, "fontWeight": "bold", "baseline": "middle", "color": "black"},
    "encoding": {"x": {"field": "mid", "type": "quantitative"}, "y": {"datum": 4.8, "type": "quantitative"}, "text": {"field": "name"}}},
   {"data": {"values": [{}]},
    "mark": {"type": "text", "text": "C", "fontSize": 21, "fontWeight": "bold", "align": "left", "baseline": "middle", "color": "black"},
    "encoding": {"x": {"datum": -37.3, "type": "quantitative"}, "y": {"datum": 4.75, "type": "quantitative"}}}
  ]},
 {"width": 621, "height": 61,
  "layer": [
   {"data": {"name": "d1"}, "mark": {"type": "area", "color": "black", "interpolate": "linear"},
    "encoding": {"x": {"field": "x", "type": "quantitative", "scale": {"domain": [1, 368], "nice": false, "zero": false}, "axis": {"title": null, "labelOverlap": false, "labelFlush": false, "labelBound": false, "tickCount": 50, "values": [1,21,41,61,81,101,121,141,161,181,201,221,241,261,281,301,321,341,361]}},
                 "y": {"field": "y", "type": "quantitative", "stack": null, "scale": {"domain": [0, 1.2708], "nice": false, "zero": false}, "axis": {"title": null, "labelOverlap": false, "labelFlush": false, "labelBound": false, "tickCount": 50, "values": [0,0.2,0.4,0.6,0.8,1,1.2], "format": "~g"}}}},
   {"data": {"values": [{}]}, "mark": {"type": "rect", "fillOpacity": 0, "stroke": "#d2d2d2", "strokeWidth": 1.3},
    "encoding": {"x": {"datum": -14.07, "type": "quantitative"}, "x2": {"datum": 370.6}, "y": {"datum": 1.3125, "type": "quantitative"}, "y2": {"datum": -0.3125}}},
   {"data": {"values": [{}]}, "mark": {"type": "rule", "color": "#a5a5a5", "strokeWidth": 2},
    "encoding": {"x": {"datum": 1.3, "type": "quantitative"}, "y": {"datum": 0, "type": "quantitative"}, "y2": {"datum": 1.2}}},
   {"data": {"values": [{}]}, "mark": {"type": "text", "text": "#1", "fontSize": 17, "fontWeight": "bold", "align": "left", "baseline": "middle", "color": "black"},
    "encoding": {"x": {"datum": 184, "type": "quantitative"}, "y": {"datum": 1.06, "type": "quantitative"}}},
   {"data": {"values": [{}]}, "mark": {"type": "rule", "color": "black", "strokeWidth": 3.5, "strokeCap": "round"},
    "encoding": {"x": {"datum": -18.97, "type": "quantitative"}, "y": {"datum": 1.2083, "type": "quantitative"}, "y2": {"datum": -1.625}}},
   {"data": {"values": [{}]}, "mark": {"type": "rule", "color": "black", "strokeWidth": 3.5, "strokeCap": "round"},
    "encoding": {"x": {"datum": -18.97, "type": "quantitative"}, "x2": {"datum": -13.07}, "y": {"datum": 1.2083, "type": "quantitative"}}},
   {"data": {"values": [{}]}, "mark": {"type": "rule", "color": "black", "strokeWidth": 3.5, "strokeCap": "round"},
    "encoding": {"x": {"datum": -18.97, "type": "quantitative"}, "x2": {"datum": -13.07}, "y": {"datum": -1.625, "type": "quantitative"}}},
   {"data": {"values": [{}]}, "mark": {"type": "rule", "color": "black", "strokeWidth": 3.5, "strokeCap": "round"},
    "encoding": {"x": {"datum": -24.12, "type": "quantitative"}, "x2": {"datum": -18.97}, "y": {"datum": -0.1875, "type": "quantitative"}}},
   {"data": {"values": [{}]}, "mark": {"type": "text", "text": "DLV121", "angle": 270, "align": "right", "baseline": "middle", "fontSize": 15.5, "color": "black"},
    "encoding": {"x": {"datum": -30.62, "type": "quantitative"}, "y": {"datum": -0.1042, "type": "quantitative"}}},
   {"data": {"values": [{}]}, "mark": {"type": "text", "text": "in vivo", "angle": 270, "align": "left", "baseline": "middle", "fontSize": 15.5, "fontStyle": "italic", "color": "black"},
    "encoding": {"x": {"datum": -30.62, "type": "quantitative"}, "y": {"datum": -0.0208, "type": "quantitative"}}}
  ]},
 {"width": 621, "height": 79,
  "layer": [
   {"data": {"name": "d2"}, "mark": {"type": "area", "color": "black", "interpolate": "linear"},
    "encoding": {"x": {"field": "x", "type": "quantitative", "scale": {"domain": [1, 368], "nice": false, "zero": false}, "axis": {"title": null, "labelOverlap": false, "labelFlush": false, "labelBound": false, "tickCount": 50, "values": [1,21,41,61,81,101,121,141,161,181,201,221,241,261,281,301,321,341,361]}},
                 "y": {"field": "y", "type": "quantitative", "stack": null, "scale": {"domain": [0, 1.6458], "nice": false, "zero": false}, "axis": {"title": null, "labelOverlap": false, "labelFlush": false, "labelBound": false, "tickCount": 50, "values": [0,0.2,0.4,0.6,0.8,1,1.2], "format": "~g"}}}},
   {"data": {"values": [{}]}, "mark": {"type": "rect", "fillOpacity": 0, "stroke": "#d2d2d2", "strokeWidth": 1.3},
    "encoding": {"x": {"datum": -14.07, "type": "quantitative"}, "x2": {"datum": 370.6}, "y": {"datum": 1.3333, "type": "quantitative"}, "y2": {"datum": -0.3958}}},
   {"data": {"values": [{}]}, "mark": {"type": "rule", "color": "#a5a5a5", "strokeWidth": 2},
    "encoding": {"x": {"datum": 1.3, "type": "quantitative"}, "y": {"datum": 0, "type": "quantitative"}, "y2": {"datum": 1.2}}},
   {"data": {"values": [{}]}, "mark": {"type": "text", "text": "#2", "fontSize": 17, "fontWeight": "bold", "align": "left", "baseline": "middle", "color": "black"},
    "encoding": {"x": {"datum": 184, "type": "quantitative"}, "y": {"datum": 0.98, "type": "quantitative"}}}
  ]},
 {"width": 621, "height": 94,
  "layer": [
   {"data": {"name": "d6"}, "mark": {"type": "area", "color": "black", "interpolate": "linear"},
    "encoding": {"x": {"field": "x", "type": "quantitative", "scale": {"domain": [1, 368], "nice": false, "zero": false}, "axis": {"title": null, "labelOverlap": false, "labelFlush": false, "labelBound": false, "tickCount": 50, "values": [1,21,41,61,81,101,121,141,161,181,201,221,241,261,281,301,321,341,361]}},
                 "y": {"field": "y", "type": "quantitative", "stack": null, "scale": {"domain": [0, 1.9583], "nice": false, "zero": false}, "axis": {"title": null, "labelOverlap": false, "labelFlush": false, "labelBound": false, "tickCount": 50, "values": [0,0.2,0.4,0.6,0.8,1,1.2], "format": "~g"}}}},
   {"data": {"values": [{}]}, "mark": {"type": "rect", "fillOpacity": 0, "stroke": "#d2d2d2", "strokeWidth": 1.3},
    "encoding": {"x": {"datum": -14.07, "type": "quantitative"}, "x2": {"datum": 370.6}, "y": {"datum": 1.3125, "type": "quantitative"}, "y2": {"datum": -0.375}}},
   {"data": {"values": [{}]}, "mark": {"type": "rule", "color": "#a5a5a5", "strokeWidth": 2},
    "encoding": {"x": {"datum": 1.3, "type": "quantitative"}, "y": {"datum": 0, "type": "quantitative"}, "y2": {"datum": 1.2}}},
   {"data": {"values": [{}]}, "mark": {"type": "text", "text": "#6", "fontSize": 17, "fontWeight": "bold", "align": "left", "baseline": "middle", "color": "black"},
    "encoding": {"x": {"datum": 184, "type": "quantitative"}, "y": {"datum": 1.06, "type": "quantitative"}}},
   {"data": {"values": [{}]}, "mark": {"type": "rule", "color": "black", "strokeWidth": 3.5, "strokeCap": "round"},
    "encoding": {"x": {"datum": -18.97, "type": "quantitative"}, "y": {"datum": 1.2708, "type": "quantitative"}, "y2": {"datum": -1.854}}},
   {"data": {"values": [{}]}, "mark": {"type": "rule", "color": "black", "strokeWidth": 3.5, "strokeCap": "round"},
    "encoding": {"x": {"datum": -18.97, "type": "quantitative"}, "x2": {"datum": -13.07}, "y": {"datum": 1.2708, "type": "quantitative"}}},
   {"data": {"values": [{}]}, "mark": {"type": "rule", "color": "black", "strokeWidth": 3.5, "strokeCap": "round"},
    "encoding": {"x": {"datum": -18.97, "type": "quantitative"}, "x2": {"datum": -13.07}, "y": {"datum": -1.854, "type": "quantitative"}}},
   {"data": {"values": [{}]}, "mark": {"type": "rule", "color": "black", "strokeWidth": 3.5, "strokeCap": "round"},
    "encoding": {"x": {"datum": -24.12, "type": "quantitative"}, "x2": {"datum": -18.97}, "y": {"datum": -0.2917, "type": "quantitative"}}},
   {"data": {"values": [{}]}, "mark": {"type": "text", "text": "FDDV13", "angle": 270, "align": "right", "baseline": "middle", "fontSize": 15.5, "color": "black"},
    "encoding": {"x": {"datum": -30.62, "type": "quantitative"}, "y": {"datum": -0.0417, "type": "quantitative"}}},
   {"data": {"values": [{}]}, "mark": {"type": "text", "text": "in vivo", "angle": 270, "align": "left", "baseline": "middle", "fontSize": 15.5, "fontStyle": "italic", "color": "black"},
    "encoding": {"x": {"datum": -30.62, "type": "quantitative"}, "y": {"datum": 0.0417, "type": "quantitative"}}}
  ]},
 {"width": 621, "height": 81,
  "layer": [
   {"data": {"name": "d8"}, "mark": {"type": "area", "color": "black", "interpolate": "linear"},
    "encoding": {"x": {"field": "x", "type": "quantitative", "scale": {"domain": [1, 368], "nice": false, "zero": false}, "axis": {"title": null, "labelOverlap": false, "labelFlush": false, "labelBound": false, "tickCount": 50, "values": [1,21,41,61,81,101,121,141,161,181,201,221,241,261,281,301,321,341,361]}},
                 "y": {"field": "y", "type": "quantitative", "stack": null, "scale": {"domain": [0, 1.6875], "nice": false, "zero": false}, "axis": {"title": null, "labelOverlap": false, "labelFlush": false, "labelBound": false, "tickCount": 50, "values": [0,0.2,0.4,0.6,0.8,1,1.2], "format": "~g"}}}},
   {"data": {"values": [{}]}, "mark": {"type": "rect", "fillOpacity": 0, "stroke": "#d2d2d2", "strokeWidth": 1.3},
    "encoding": {"x": {"datum": -14.07, "type": "quantitative"}, "x2": {"datum": 370.6}, "y": {"datum": 1.3125, "type": "quantitative"}, "y2": {"datum": -0.3542}}},
   {"data": {"values": [{}]}, "mark": {"type": "rule", "color": "#a5a5a5", "strokeWidth": 2},
    "encoding": {"x": {"datum": 1.3, "type": "quantitative"}, "y": {"datum": 0, "type": "quantitative"}, "y2": {"datum": 1.2}}},
   {"data": {"values": [{}]}, "mark": {"type": "text", "text": "#8", "fontSize": 17, "fontWeight": "bold", "align": "left", "baseline": "middle", "color": "black"},
    "encoding": {"x": {"datum": 184, "type": "quantitative"}, "y": {"datum": 1.08, "type": "quantitative"}}}
  ]}
]
}
